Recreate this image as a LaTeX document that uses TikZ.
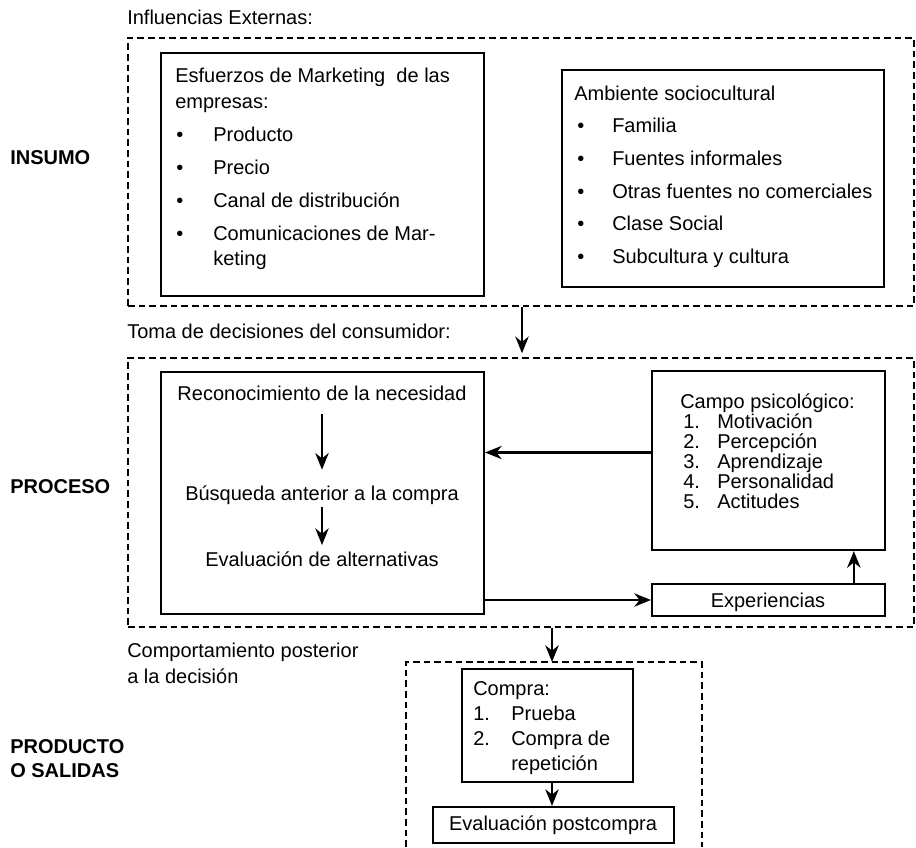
\documentclass[tikz,border=0pt]{standalone}
\usepackage{fontspec}
\setmainfont{Liberation Sans}
\usetikzlibrary{arrows.meta, positioning, calc, fit}

\tikzset{
    txt/.style={inner sep=0pt, anchor=base west, text height=11pt, text depth=3pt,
        font=\fontsize{15pt}{18pt}\selectfont},
    lbl/.style={txt, font=\fontsize{15pt}{18pt}\selectfont\bfseries},
    box/.style={draw, line width=1.6pt, inner sep=0pt},
    zone/.style={draw, line width=1.1pt, dash pattern=on 5pt off 3pt, inner sep=0pt},
    arr/.style={-{Stealth[length=12.5pt, width=10pt, inset=4pt]}, line width=1.7pt},
}

\begin{document}
\begin{tikzpicture}[x=0.75pt, y=-0.75pt]
    \useasboundingbox (0,0) rectangle (916,847);

    % dashed zones
    \node[zone, fit={(128,38) (914,306)}] (insumo) {};
    \node[zone, fit={(128,358) (914,627)}] (proceso) {};
    \draw[zone] (406,847) -- (406,662) -- (702,662) -- (702,847);
    \coordinate (salida) at (552,662);

    % side labels
    \node[lbl] (insumoLbl) at (10,164) {INSUMO};
    \node[lbl] (procesoLbl) at (10,493) {PROCESO};
    \node[lbl] (productoLbl) at (10,753) {PRODUCTO};
    \node[lbl] (salidasLbl) at (10,777) {O SALIDAS};

    % zone titles
    \node[txt] (influ) at (127,24) {Influencias Externas:};
    \node[txt] (toma) at (127,338) {Toma de decisiones del consumidor:};
    \node[txt] (comport) at (127,657) {Comportamiento posterior};
    \node[txt] (decision) at (127,683) {a la decisión};

    % marketing efforts
    \node[box, fit={(161,53) (484,296)}] (esf) {};
    \node[txt] (esfT1) at (175,82) {Esfuerzos de Marketing\ \ de las};
    \node[txt] (esfT2) at (175,108) {empresas:};
    \foreach \entry [count=\i] in {Producto, Precio, Canal de distribución, Comunicaciones de Mar-} {
        \node[txt] (esfB\i) at (176,108+33*\i) {\textbullet};
        \node[txt] (esfI\i) at (213,108+33*\i) {\entry};
    }
    \node[txt] (esfI5) at (213,265) {keting};

    % sociocultural environment
    \node[box, fit={(562,70) (884,287)}] (amb) {};
    \node[txt] (ambT) at (574,100) {Ambiente sociocultural};
    \foreach \entry [count=\i] in {Familia, Fuentes informales, Otras fuentes no comerciales, Clase Social, Subcultura y cultura} {
        \node[txt] (ambB\i) at (577,100+32.7*\i) {\textbullet};
        \node[txt] (ambI\i) at (612,100+32.7*\i) {\entry};
    }

    % decision steps
    \node[box, fit={(161,372) (484,614)}] (reco) {};
    \node[txt, anchor=base] (necesidad) at (322,400) {Reconocimiento de la necesidad};
    \node[txt, anchor=base] (busqueda) at (322,500) {Búsqueda anterior a la compra};
    \node[txt, anchor=base] (evalAlt) at (322,566) {Evaluación de alternativas};
    \draw[arr, shorten <=7.5pt, shorten >=11.5pt] (necesidad) -- (busqueda);
    \draw[arr, shorten <=2pt, shorten >=4.5pt] (busqueda) -- (evalAlt);

    % psychological field
    \node[box, fit={(652,371) (885,550)}] (campo) {};
    \node[txt] (campoT) at (680,408) {Campo psicológico:};
    \foreach \entry [count=\i] in {Motivación, Percepción, Aprendizaje, Personalidad, Actitudes} {
        \node[txt] (campoN\i) at (683,408+20*\i) {\i.};
        \node[txt] (campoI\i) at (717,408+20*\i) {\entry};
    }

    \node[box, fit={(652,584) (885,616)}] (exp) {};
    \node[txt, anchor=base] (expT) at (768,607) {Experiencias};

    % purchase
    \node[box, fit={(462,669) (633,782)}] (compra) {};
    \node[txt] (compraT) at (473,695) {Compra:};
    \node[txt] (compraN1) at (473,720) {1.};
    \node[txt] (compraI1) at (511,720) {Prueba};
    \node[txt] (compraN2) at (473,745) {2.};
    \node[txt] (compraI2) at (511,745) {Compra de};
    \node[txt] (compraI3) at (511,770) {repetición};

    \node[box, fit={(433,807) (674,843)}] (post) {};
    \node[txt, anchor=base] (postT) at (553,830) {Evaluación postcompra};

    % connectors
    \coordinate (x1) at (522,0);
    \coordinate (x2) at (552,0);
    \draw[arr, shorten >=3pt] (insumo.south -| x1) -- (proceso.north -| x1);
    \coordinate (fb) at ([yshift=6pt]campo.west);
    \draw[arr] (fb) -- (fb -| reco.east);
    \draw[arr] (reco.east |- exp.west) -- (exp.west);
    \coordinate (up) at ([xshift=64pt]exp.north);
    \draw[arr] (up) -- (up |- campo.south);
    \draw[arr] (proceso.south -| x2) -- (salida);
    \draw[arr] (compra.south -| x2) -- (post.north -| x2);
\end{tikzpicture}
\end{document}
